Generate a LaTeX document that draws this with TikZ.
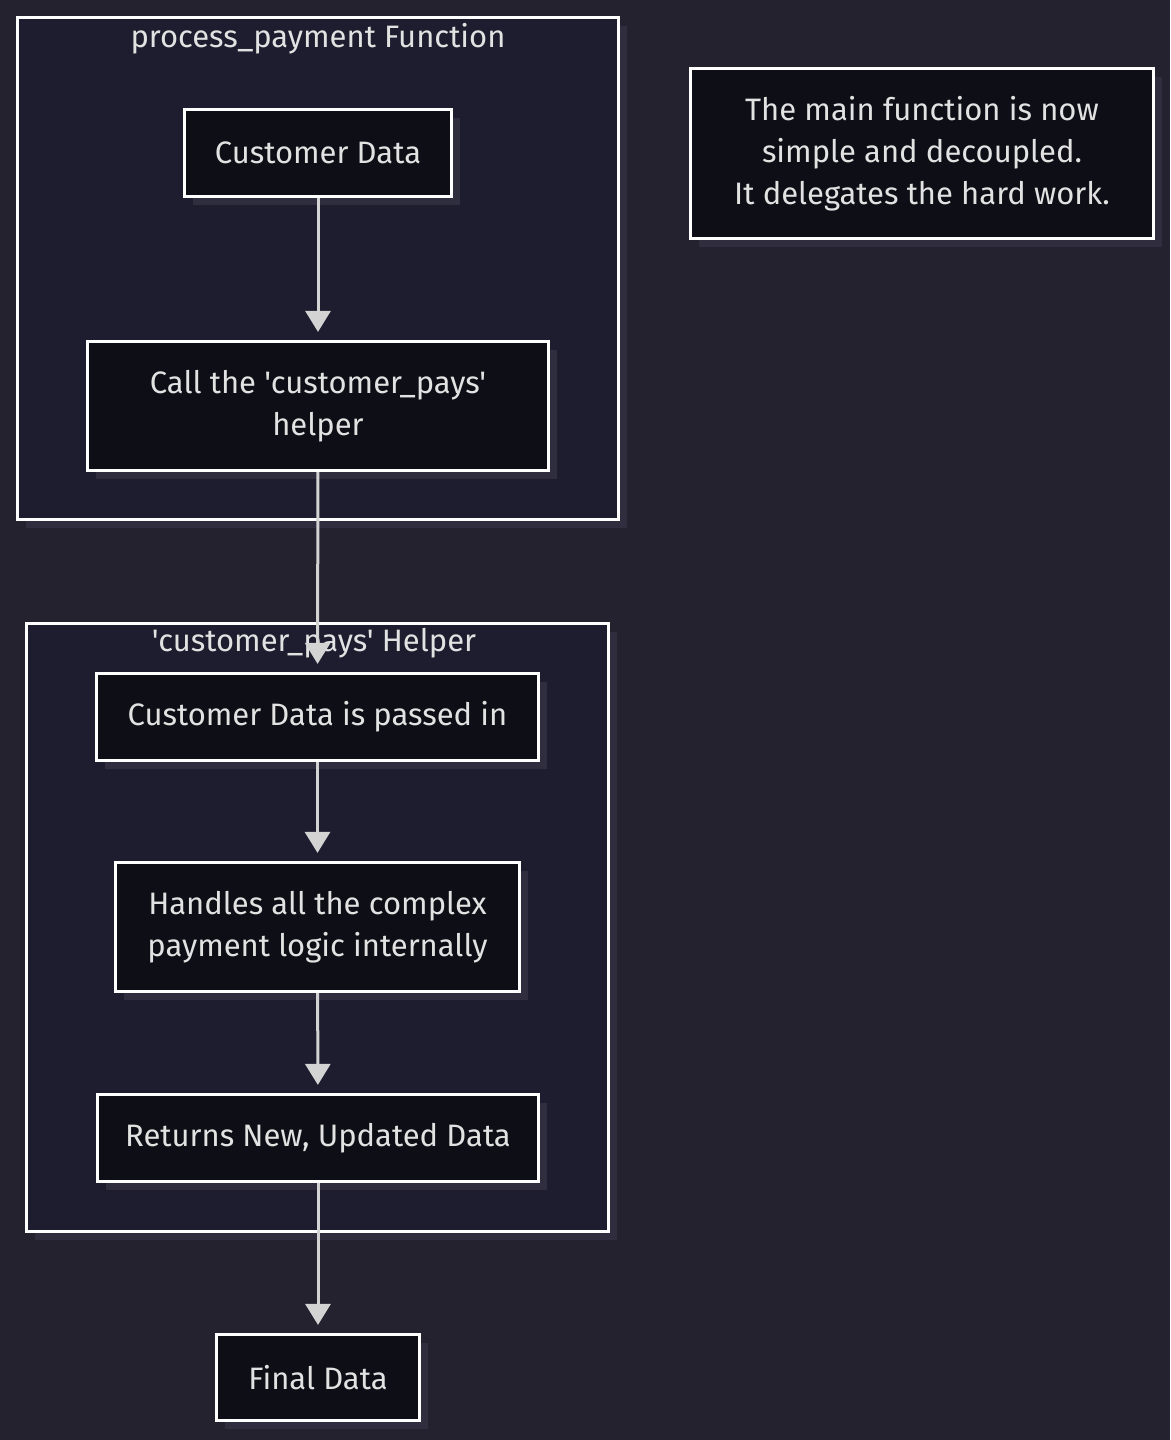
\documentclass[tikz,border=0pt]{standalone}
\usepackage{fontspec}
\newfontfamily\nf{Fira Sans}
\usetikzlibrary{arrows.meta,shadows}
\definecolor{bgc}{HTML}{24222F}
\definecolor{clc}{HTML}{1E1D2F}
\definecolor{ndc}{HTML}{0E0E16}
\definecolor{shc}{HTML}{302E3E}
\definecolor{txc}{HTML}{E2E2E2}
\definecolor{lnc}{HTML}{D3D3D3}
\tikzset{
  cluster/.style={draw=white, line width=3.2pt, fill=clc, inner sep=0pt,
    drop shadow={shadow xshift=8pt, shadow yshift=-8pt, fill=shc, opacity=1}},
  stepbox/.style={draw=white, line width=3.2pt, fill=ndc, text=txc, align=center, inner sep=0pt,
    font=\nf\fontsize{31}{42}\selectfont,
    drop shadow={shadow xshift=8pt, shadow yshift=-8pt, fill=shc, opacity=1}},
  ctitle/.style={text=txc, font=\nf\fontsize{31}{42}\selectfont, inner sep=0pt},
  arr/.style={draw=lnc, line width=3pt, -{Triangle[width=25pt,length=21pt]}, shorten >=8pt}
}
\begin{document}
\begin{tikzpicture}[x=1pt,y=-1pt]
\fill[bgc] (0,0) rectangle (1170,1440);
\useasboundingbox (0,0) rectangle (1170,1440);
% clusters
\node[cluster, minimum width=601pt, minimum height=502pt] (c1) at (318,268.5) {};
\node[ctitle] (t1) at (318,39) {process\_payment Function};
\node[cluster, minimum width=582pt, minimum height=608pt] (c2) at (317.5,927.5) {};
\node[ctitle] (t2) at (314,643) {'customer\_pays' Helper};
% nodes
\node[stepbox, minimum width=267pt, minimum height=87pt] (n1) at (318,153) {Customer Data};
\node[stepbox, minimum width=461pt, minimum height=129pt] (n2) at (318,406) {Call the 'customer\_pays'\\helper};
\node[stepbox, minimum width=442pt, minimum height=87pt] (n3) at (317.5,717) {Customer Data is passed in};
\node[stepbox, minimum width=404pt, minimum height=129pt] (n4) at (317.5,927) {Handles all the complex\\payment logic internally};
\node[stepbox, minimum width=441pt, minimum height=87pt] (n5) at (318,1138) {Returns New, Updated Data};
\node[stepbox, minimum width=203pt, minimum height=86pt] (n6) at (318,1377.5) {Final Data};
\node[stepbox, minimum width=463pt, minimum height=170pt] (note) at (922,153.5) {The main function is now\\simple and decoupled.\\It delegates the hard work.};
% edges
\draw[arr] (n1) -- (n2);
\draw[arr] (n2) -- (n3);
\draw[arr] (n3) -- (n4);
\draw[arr] (n4) -- (n5);
\draw[arr] (n5) -- (n6);
\end{tikzpicture}
\end{document}
